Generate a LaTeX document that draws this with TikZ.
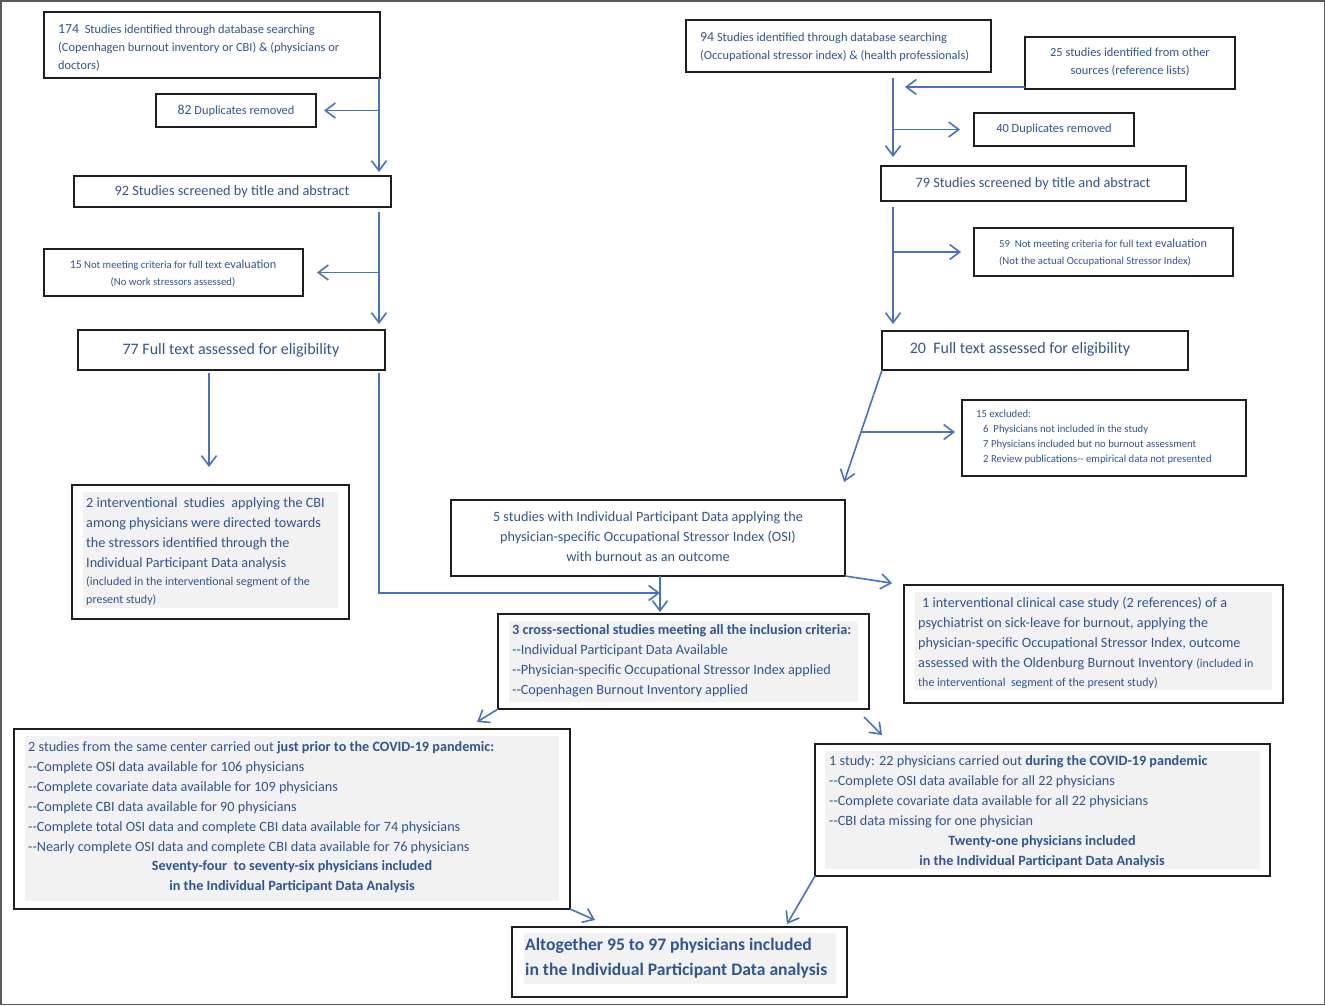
\documentclass[tikz,border=0pt]{standalone}
\usepackage{fontspec}
\setmainfont{Carlito}[Ligatures=TeXOff]
\usetikzlibrary{arrows.meta,calc}
\definecolor{txtc}{RGB}{47,85,151}
\definecolor{lnc}{RGB}{68,114,196}
\definecolor{boxc}{RGB}{30,30,30}
\definecolor{fillc}{RGB}{242,242,242}
\definecolor{framec}{RGB}{90,90,90}
\newcommand\fs[2]{\fontsize{#1}{#2}\selectfont}
\tikzset{
  box/.style={draw=boxc, line width=1.6pt, inner sep=0pt, outer sep=0pt},
  txt/.style={inner sep=0pt, text=txtc, align=left, anchor=west},
  ctxt/.style={inner sep=0pt, text=txtc, align=center},
  arr/.style={draw=lnc, line width=1.6pt, -{Straight Barb[length=10pt,width=15pt]}},
  shade/.style={fill=fillc}
}
\begin{document}
\begin{tikzpicture}[x=1pt,y=-1pt]
\useasboundingbox (0,0) rectangle (1325,1005);
\draw[framec, line width=1.5pt] (0.75,0.75) rectangle (1324.25,1004.25);

% gray fills
\fill[shade] (83,492) rectangle (338,608);
\fill[shade] (509,621) rectangle (858,702);
\fill[shade] (915,592) rectangle (1272,690);
\fill[shade] (25,736) rectangle (559,901);
\fill[shade] (825,751) rectangle (1260,869);
\fill[shade] (524,933) rectangle (836,984);

% boxes
\node[box, minimum width=336pt, minimum height=66pt] (b174) at (212,45) {};
\node[box, minimum width=160pt, minimum height=33pt] (b82) at (236,110.5) {};
\node[box, minimum width=317pt, minimum height=31pt] (b92) at (232.5,191.5) {};
\node[box, minimum width=259pt, minimum height=47pt] (b15) at (173.5,272.5) {};
\node[box, minimum width=307pt, minimum height=40pt] (b77) at (231.5,350) {};
\node[box, minimum width=277pt, minimum height=134pt] (b2int) at (210.5,552) {};
\node[box, minimum width=394pt, minimum height=76pt] (b5) at (648,538) {};
\node[box, minimum width=371pt, minimum height=95pt] (b3) at (683.5,661.5) {};
\node[box, minimum width=556pt, minimum height=180pt] (b2prior) at (292,819) {};
\node[box, minimum width=455pt, minimum height=132pt] (b1study) at (1042.5,810) {};
\node[box, minimum width=335pt, minimum height=70pt] (bfinal) at (679.5,962) {};
\node[box, minimum width=305pt, minimum height=52pt] (b94) at (838.5,46) {};
\node[box, minimum width=210pt, minimum height=52pt] (b25) at (1130,63) {};
\node[box, minimum width=160pt, minimum height=33pt] (b40) at (1054,129.5) {};
\node[box, minimum width=305pt, minimum height=35pt] (b79) at (1033.5,183.5) {};
\node[box, minimum width=259pt, minimum height=48pt] (b59) at (1103.5,252) {};
\node[box, minimum width=306pt, minimum height=39pt] (b20) at (1035,350.5) {};
\node[box, minimum width=284pt, minimum height=76pt] (b15ex) at (1104,438) {};
\node[box, minimum width=379pt, minimum height=118pt] (b1int) at (1093.5,644) {};

% texts
\node[txt, font=\fs{12.4}{18}] (t174) at (58,47.5) {{\fs{13.8}{18}174}\ \ Studies identified through database searching\\(Copenhagen burnout inventory or CBI) \& (physicians or\\doctors)};
\node[ctxt, font=\fs{12.4}{18}] (t82) at (236,111) {{\fs{13.8}{18}82} Duplicates removed};
\node[ctxt, font=\fs{14.3}{18}] (t92) at (232,192) {92 Studies screened by title and abstract};
\node[ctxt, font=\fs{10.7}{17}] (t15) at (173,273.5) {{\fs{11.8}{17}15} Not meeting criteria for full text {\fs{12.2}{17}evaluation}\\(No work stressors assessed)};
\node[ctxt, font=\fs{16}{18}] (t77) at (231,350) {77 Full text assessed for eligibility};
\node[txt, font=\fs{14.2}{20}] (t2int) at (86,552) {2 interventional\ \ studies\ \ applying the CBI\\among physicians were directed towards\\the stressors identified through the\\Individual Participant Data analysis\\[-2pt]{\fs{12}{18}(included in the interventional segment of the}\\[-2pt]{\fs{12}{18}present study)}};
\node[ctxt, font=\fs{14.2}{20}] (t5) at (648,537) {5 studies with Individual Participant Data applying the\\physician-specific Occupational Stressor Index (OSI)\\with burnout as an outcome};
\node[txt, font=\fs{14.2}{20}] (t3) at (512,661) {\textbf{3 cross-sectional studies meeting all the inclusion criteria:}\\--Individual Participant Data Available\\--Physician-specific Occupational Stressor Index applied\\--Copenhagen Burnout Inventory applied};
\node[txt, font=\fs{14.2}{20}] (t1int) at (918,642.5) {\hspace*{4pt}1 interventional clinical case study (2 references) of a\\psychiatrist on sick-leave for burnout, applying the\\physician-specific Occupational Stressor Index, outcome\\assessed with the Oldenburg Burnout Inventory {\fs{12}{18}(included in}\\[-1pt]{\fs{12}{18}the interventional\ \ segment of the present study)}};
\node[txt, font=\fs{14.2}{20}] (t2pa) at (28,797.5) {2 studies from the same center carried out \textbf{just prior to the COVID-19 pandemic:}\\--Complete OSI data available for 106 physicians\\--Complete covariate data available for 109 physicians\\--Complete CBI data available for 90 physicians\\--Complete total OSI data and complete CBI data available for 74 physicians\\--Nearly complete OSI data and complete CBI data available for 76 physicians};
\node[ctxt, font=\bfseries\fs{14.2}{20}] (t2pb) at (292,877) {Seventy-four\ \ to seventy-six physicians included\\in the Individual Participant Data Analysis};
\node[txt, font=\fs{14.2}{20}] (t1sa) at (829,792) {1 study: 22 physicians carried out \textbf{during the COVID-19 pandemic}\\--Complete OSI data available for all 22 physicians\\--Complete covariate data available for all 22 physicians\\--CBI data missing for one physician};
\node[ctxt, font=\bfseries\fs{14.2}{20}] (t1sb) at (1042,852) {Twenty-one physicians included\\in the Individual Participant Data Analysis};
\node[txt, font=\bfseries\fs{17.6}{25}] (tfin) at (525,958.5) {Altogether 95 to 97 physicians included\\in the Individual Participant Data analysis};
\node[txt, font=\fs{12.4}{18}] (t94) at (700,47) {{\fs{13.8}{18}94} Studies identified through database searching\\(Occupational stressor index) \& (health professionals)};
\node[ctxt, font=\fs{12.4}{18}] (t25) at (1130,62) {25 studies identified from other\\sources (reference lists)};
\node[ctxt, font=\fs{12.4}{18}] (t40) at (1054,129) {40 Duplicates removed};
\node[ctxt, font=\fs{14.3}{18}] (t79) at (1033,184) {79 Studies screened by title and abstract};
\node[txt, font=\fs{10.7}{17}] (t59) at (999,252.5) {59\ \ Not meeting criteria for full text {\fs{12.2}{17}evaluation}\\(Not the actual Occupational Stressor Index)};
\node[ctxt, font=\fs{16}{18}] (t20) at (1020,349) {20\ \ Full text assessed for eligibility};
\node[txt, font=\fs{10.7}{15}] (t15ex) at (976,437.5) {15 excluded:\\\hspace*{7pt}6\ \ Physicians not included in the study\\\hspace*{7pt}7 Physicians included but no burnout assessment\\\hspace*{7pt}2 Review publications-- empirical data not presented};

% helper coordinates
\coordinate (vL) at (379,0);
\coordinate (vR) at (893,0);
\coordinate (vM) at (660,0);
\coordinate (x209) at (209,0);
\coordinate (y87) at (0,87);
\coordinate (j5) at (660,593);
\coordinate (t1) at (477,722);
\coordinate (t2) at (882,735);
\coordinate (t3) at (595,920);
\coordinate (t4) at (787,924);
\coordinate (dEnd) at ([xshift=-7pt]b5.north east);
\coordinate (d1) at ($(b20.south west)!0.477!(dEnd)$);

% left column connectors
\draw[arr, shorten >=4pt] (b174.south -| vL) -- (b92.north -| vL);
\draw[arr, shorten >=8pt] (b82.east -| vL) -- (b82.east);
\draw[arr, shorten <=5pt, shorten >=6pt] (b92.south -| vL) -- (b77.north -| vL);
\draw[arr, shorten >=14pt] (b15.east -| vL) -- (b15.east);
\draw[arr, shorten <=3pt, shorten >=18pt] (b77.south -| x209) -- (b2int.north -| x209);
\draw[arr, shorten <=3pt] (b77.south -| vL) |- (j5);
\draw[arr, shorten >=2pt] (b5.south -| vM) -- (b3.north -| vM);

% right column connectors
\draw[arr, shorten <=6pt, shorten >=9pt] (b94.south -| vR) -- (b79.north -| vR);
\draw[arr, shorten >=12pt] (b25.west |- y87) -- (vR |- y87);
\draw[arr, shorten >=14pt] (vR |- b40.west) -- (b40.west);
\draw[arr, shorten <=6pt, shorten >=7pt] (b79.south -| vR) -- (b20.north -| vR);
\draw[arr, shorten >=13pt] (vR |- b59.west) -- (b59.west);
\draw[arr, shorten >=19pt] (b20.south west) -- (dEnd);
\draw[arr, shorten >=7pt] (d1) -- (d1 -| b15ex.west);
\draw[arr, shorten >=12pt] (b5.south east) -- (b1int.north west);

% lower connectors
\draw[arr] (b3.south west) -- (t1);
\draw[arr] ([shift={(-5pt,-8pt)}]b3.south east) -- (t2);
\draw[arr] (b2prior.south east) -- (t3);
\draw[arr] (b1study.south west) -- (t4);
\end{tikzpicture}
\end{document}
